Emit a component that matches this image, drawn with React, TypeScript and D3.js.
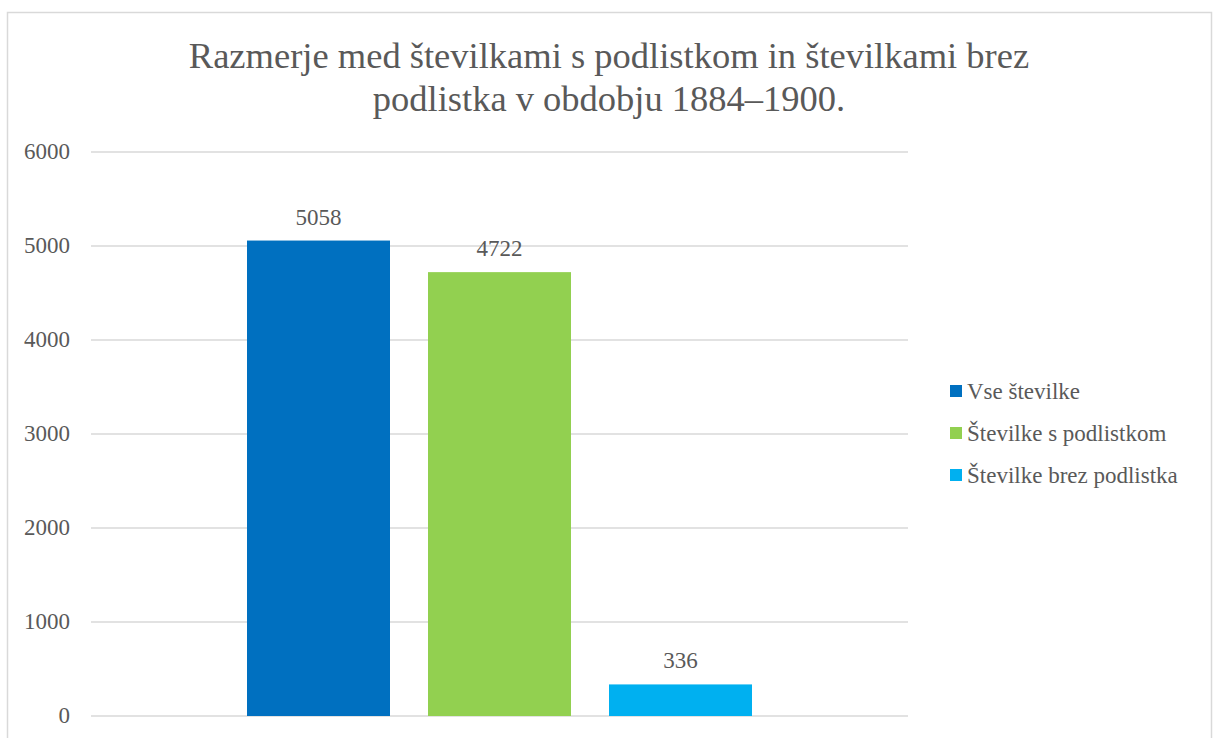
import React from 'react';
import * as d3 from 'd3';

const titleLines = [
  'Razmerje med številkami s podlistkom in številkami brez',
  'podlistka v obdobju 1884–1900.',
];
const seriesNames = ['Vse številke', 'Številke s podlistkom', 'Številke brez podlistka'];
const seriesValues = [5058, 4722, 336];
const seriesColors = ['#0070C0', '#92D050', '#00B0F0'];
const yTicks = [0, 1000, 2000, 3000, 4000, 5000, 6000];

const W = 1216;
const H = 738;
const textColor = '#595959';
const gridColor = '#d9d9d9';
const plot = { left: 91, right: 908, top: 152, bottom: 716 };
const font = (size: number) => ({ fontFamily: 'Liberation Serif', fontSize: size, fill: textColor });

export default function App() {
  const y = d3.scaleLinear().domain([0, 6000]).range([plot.bottom, plot.top]);
  const x = d3.scaleBand<string>()
    .domain(seriesNames)
    .range([247, 752])
    .paddingInner(38 / 181)
    .paddingOuter(0);
  const fmt = d3.format('d');

  return (
    <svg width={W} height={H} style={{ position: 'absolute', left: 0, top: 0, display: 'block' }}>
      <rect width={W} height={H} fill="#fff" />
      {/* chart frame */}
      <rect x={7.5} y={12.5} width={1204} height={740} fill="none" stroke={gridColor} strokeWidth={1.5} />

      {/* title */}
      <text textAnchor="middle" style={font(36.5)}>
        {titleLines.map((t, i) => (
          <tspan key={i} x={609} y={68 + i * 43}>{t}</tspan>
        ))}
      </text>

      {/* gridlines + y labels */}
      {yTicks.map(t => (
        <g key={t}>
          <line x1={plot.left} x2={plot.right} y1={y(t)} y2={y(t)} stroke={gridColor} strokeWidth={1.5} />
          <text x={70} y={y(t)} dy="0.3em" textAnchor="end" style={font(23)}>{fmt(t)}</text>
        </g>
      ))}

      {/* bars + data labels */}
      {seriesValues.map((v, i) => {
        const bx = x(seriesNames[i]) || 0;
        return (
          <g key={seriesNames[i]}>
            <rect x={bx} y={y(v)} width={x.bandwidth()} height={y(0) - y(v)} fill={seriesColors[i]} />
            <text x={bx + x.bandwidth() / 2} y={y(v) - 16} textAnchor="middle" style={font(23)}>{v}</text>
          </g>
        );
      })}

      {/* legend */}
      {seriesNames.map((name, i) => (
        <g key={name} transform={`translate(950,${399 + i * 42})`}>
          <rect x={0} y={-14} width={12} height={12} fill={seriesColors[i]} />
          <text x={17} y={0} style={font(23)}>{name}</text>
        </g>
      ))}
    </svg>
  );
}
